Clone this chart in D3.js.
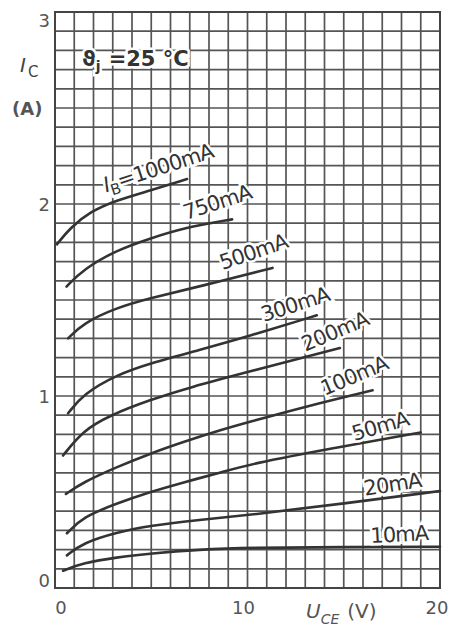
<!DOCTYPE html>
<html>
<head>
<meta charset="utf-8">
<script src="https://cdn.jsdelivr.net/npm/d3@7"></script>
<style>
  html, body { margin: 0; padding: 0; background: #fff; }
  svg { display: block; font-family: "DejaVu Sans", sans-serif; }
</style>
</head>
<body>
<div id="chart"></div>
<script>
// collector-emitter output characteristics, Ic vs Uce for several base currents
const baseCurrents = ["1000mA", "750mA", "500mA", "300mA", "200mA", "100mA", "50mA", "20mA", "10mA"];

const uce1000 = [0.1, 0.78, 1.82, 3.2, 4.94, 6.86];
const ic1000  = [1.79, 1.875, 1.96, 2.02, 2.07, 2.13];
const uce750  = [0.6, 1.47, 3.2, 4.94, 6.65, 9.2];
const ic750   = [1.57, 1.66, 1.76, 1.82, 1.875, 1.92];
const uce500  = [0.68, 1.47, 3.2, 4.94, 7.5, 11.3];
const ic500   = [1.30, 1.38, 1.46, 1.51, 1.57, 1.667];
const uce300  = [0.68, 1.47, 3.2, 4.94, 7.5, 10, 13.6];
const ic300   = [0.91, 1.01, 1.11, 1.17, 1.24, 1.31, 1.42];
const uce200  = [0.42, 1.45, 2.86, 4.94, 7, 10, 14.8];
const ic200   = [0.69, 0.82, 0.90, 0.98, 1.045, 1.125, 1.25];
const uce100  = [0.57, 1.45, 3.2, 4.94, 6.65, 8.5, 10.1, 13, 16.5];
const ic100   = [0.49, 0.55, 0.63, 0.70, 0.76, 0.82, 0.865, 0.945, 1.03];
const uce50   = [0.62, 1.45, 3.2, 4.94, 6.65, 8.57, 10.1, 14.5, 19];
const ic50    = [0.285, 0.37, 0.44, 0.50, 0.55, 0.60, 0.645, 0.73, 0.81];
const uce20   = [0.62, 1.45, 3.2, 4.94, 7.5, 10.1, 15, 20];
const ic20    = [0.17, 0.235, 0.29, 0.325, 0.355, 0.38, 0.44, 0.505];
const uce10   = [0.42, 1.45, 3.2, 4.94, 7.5, 10.1, 15, 20];
const ic10    = [0.09, 0.13, 0.16, 0.18, 0.20, 0.21, 0.213, 0.215];

const xTicks = [0, 10, 20];
const yTicks = [0, 1, 2, 3];

const series = [
  [uce1000, ic1000], [uce750, ic750], [uce500, ic500], [uce300, ic300], [uce200, ic200],
  [uce100, ic100], [uce50, ic50], [uce20, ic20], [uce10, ic10]
].map(([u, i], k) => ({ name: baseCurrents[k], pts: u.map((v, j) => [v, i[j]]) }));

// where each curve label sits (data units) and its tilt
const labelAt = [
  [2.65, 2.06, -18], [6.8, 1.917, -18], [8.7, 1.656, -19], [10.85, 1.385, -18], [13.0, 1.23, -23],
  [14.0, 1.0, -23], [15.55, 0.766, -16], [16.1, 0.48, -9], [16.4, 0.234, -3]
];

const width = 454, height = 632;
const margin = { top: 12, right: 14, bottom: 44, left: 55 };

const x = d3.scaleLinear().domain([0, 20]).range([margin.left, width - margin.right]);
const y = d3.scaleLinear().domain([0, 3]).range([height - margin.bottom, margin.top]);

const svg = d3.select("#chart").append("svg")
    .attr("width", width)
    .attr("height", height);

const grid = svg.append("g").attr("class", "grid")
    .attr("stroke", "#555")
    .attr("stroke-width", 1.7);

grid.selectAll("line.v")
    .data(d3.range(0, 21))
  .enter().append("line")
    .attr("class", "v")
    .attr("x1", d => x(d)).attr("x2", d => x(d))
    .attr("y1", y(0)).attr("y2", y(3));

grid.selectAll("line.h")
    .data(d3.range(0, 31).map(d => d / 10))
  .enter().append("line")
    .attr("class", "h")
    .attr("y1", d => y(d)).attr("y2", d => y(d))
    .attr("x1", x(0)).attr("x2", x(20));

svg.append("rect")
    .attr("x", x(0)).attr("y", y(3))
    .attr("width", x(20) - x(0)).attr("height", y(0) - y(3))
    .attr("fill", "none")
    .attr("stroke", "#444")
    .attr("stroke-width", 2);

// tick labels
svg.append("g").selectAll("text")
    .data(yTicks)
  .enter().append("text")
    .attr("x", margin.left - 5)
    .attr("y", d => y(d) + (d === 3 ? 15 : d === 0 ? -1 : 7))
    .attr("text-anchor", "end")
    .attr("font-size", 18)
    .attr("fill", "#555")
    .text(d => d);

svg.append("g").selectAll("text")
    .data(xTicks)
  .enter().append("text")
    .attr("x", d => x(d) + (d === 0 ? 6 : d === 20 ? -3 : -4))
    .attr("y", y(0) + 26)
    .attr("text-anchor", "middle")
    .attr("font-size", 18)
    .attr("fill", "#555")
    .text(d => d);

// axis titles
const yTitle = svg.append("text")
    .attr("x", 20).attr("y", 72)
    .attr("font-size", 20)
    .attr("fill", "#444");
yTitle.append("tspan").attr("font-style", "italic").text("I");
yTitle.append("tspan").attr("font-size", 15).attr("dy", 5).attr("dx", 2).text("C");

svg.append("text")
    .attr("x", 12).attr("y", 115)
    .attr("font-size", 18)
    .attr("font-weight", "bold")
    .attr("fill", "#555")
    .text("(A)");

const xTitle = svg.append("text")
    .attr("x", 306).attr("y", 618)
    .attr("font-size", 20)
    .attr("fill", "#555");
xTitle.append("tspan").attr("font-style", "italic").text("U");
xTitle.append("tspan").attr("font-style", "italic").attr("font-size", 14).attr("dy", 6).text("CE");
xTitle.append("tspan").attr("dy", -6).attr("dx", 8).text("(V)");

// temperature note
const temp = svg.append("text")
    .attr("x", x(1.4)).attr("y", y(2.72))
    .attr("font-size", 21)
    .attr("font-weight", "bold")
    .attr("fill", "#333")
    .attr("stroke", "#fff").attr("stroke-width", 5)
    .attr("paint-order", "stroke");
temp.append("tspan").text("\u03D1");
temp.append("tspan").attr("font-size", 14).attr("dy", 5).text("j");
temp.append("tspan").attr("dy", -5).attr("dx", 8).text("=25 \u00B0C");

// curves
const line = d3.line()
    .x(d => x(d[0]))
    .y(d => y(d[1]))
    .curve(d3.curveBasis);

svg.append("g").selectAll("path")
    .data(series)
  .enter().append("path")
    .attr("d", d => line(d.pts))
    .attr("fill", "none")
    .attr("stroke", "#333")
    .attr("stroke-width", 2.6)
    .attr("stroke-linecap", "round");

// curve labels
const labels = svg.append("g").selectAll("text")
    .data(series)
  .enter().append("text")
    .attr("transform", (d, k) => `translate(${x(labelAt[k][0])},${y(labelAt[k][1])}) rotate(${labelAt[k][2]})`)
    .attr("font-size", 21)
    .attr("letter-spacing", -0.9)
    .attr("fill", "#333")
    .attr("stroke", "#fff").attr("stroke-width", 5)
    .attr("paint-order", "stroke");

labels.each(function (d, k) {
  const t = d3.select(this);
  if (k === 0) {
    t.append("tspan").attr("font-style", "italic").text("I");
    t.append("tspan").attr("font-size", 15).attr("dy", 5).text("B");
    t.append("tspan").attr("dy", -5).text("=" + d.name);
  } else {
    t.text(d.name);
  }
});
</script>
</body>
</html>
